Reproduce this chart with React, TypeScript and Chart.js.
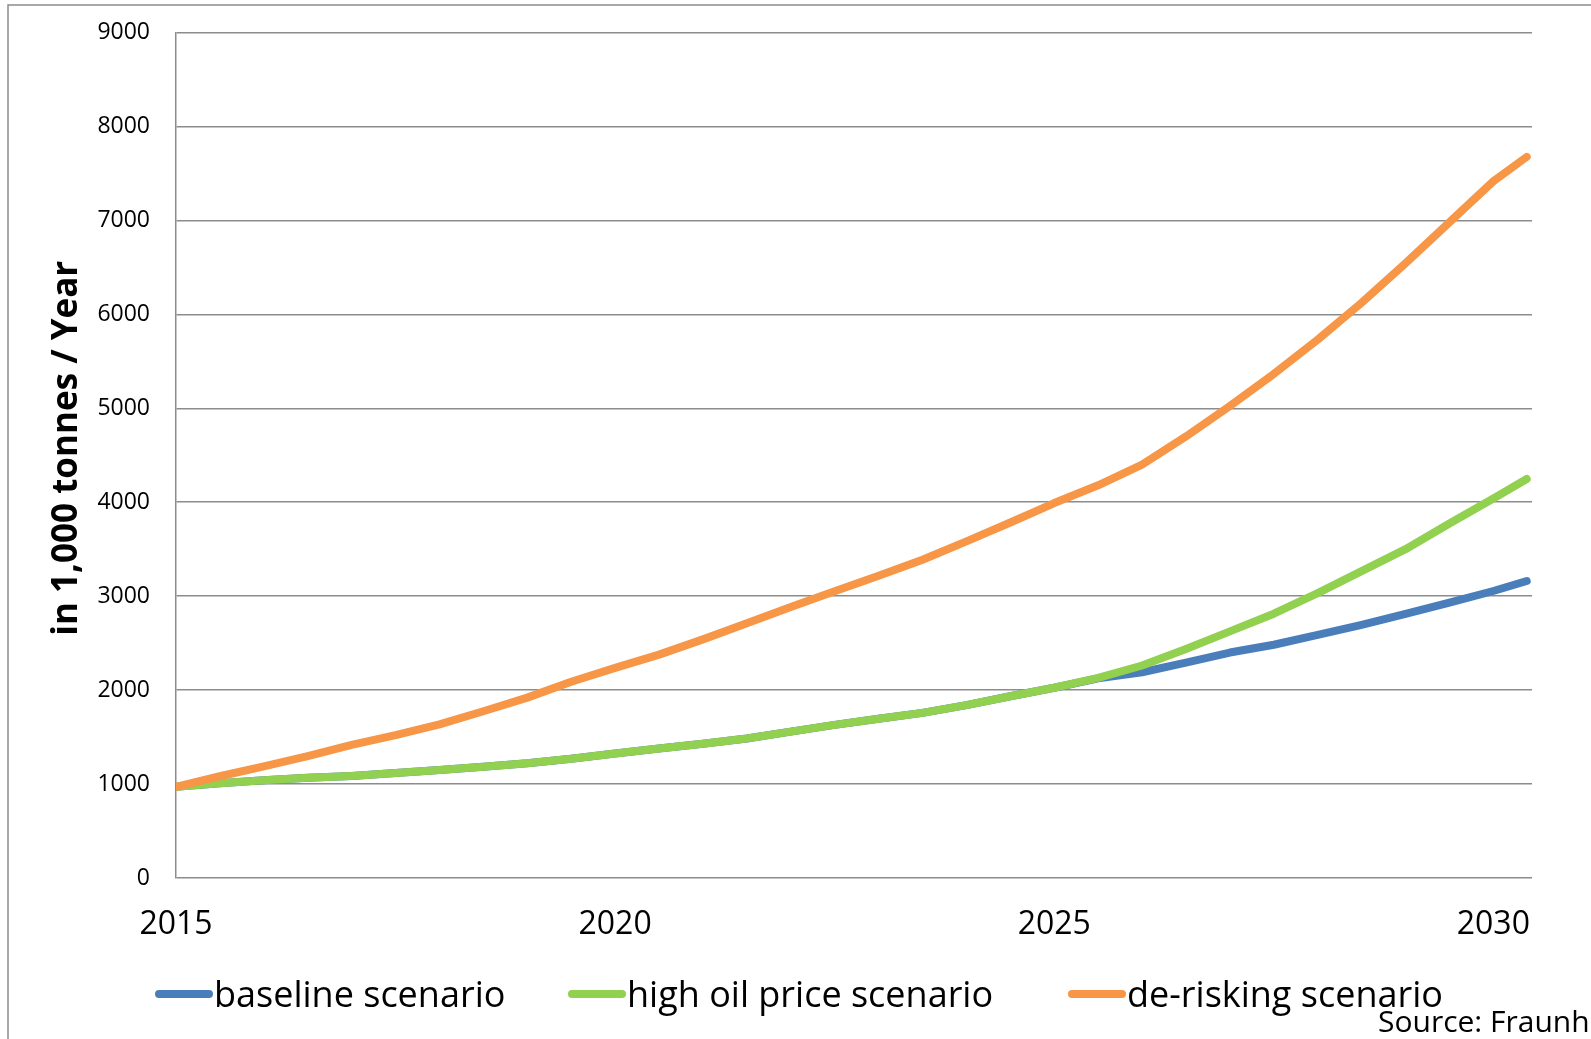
import React, { useEffect, useRef } from "react";
import { Chart, registerables } from "chart.js";

Chart.register(...registerables);

// Time axis (years, half-year steps, last point mid-2030)
const years = [
  2015, 2015.5, 2016, 2016.5, 2017, 2017.5, 2018, 2018.5, 2019, 2019.5,
  2020, 2020.5, 2021, 2021.5, 2022, 2022.5, 2023, 2023.5, 2024, 2024.5,
  2025, 2025.5, 2026, 2026.5, 2027, 2027.5, 2028, 2028.5, 2029, 2029.5,
  2030, 2030.38,
];

// Production in 1,000 tonnes per year
const baseline = [
  970, 1008, 1040, 1066, 1087, 1117, 1150, 1185, 1222, 1270,
  1325, 1379, 1430, 1485, 1558, 1630, 1695, 1758, 1840, 1935,
  2025, 2125, 2190, 2293, 2400, 2483, 2587, 2694, 2811, 2932,
  3055, 3161,
];
const highOilPrice = [
  970, 1008, 1040, 1066, 1087, 1117, 1150, 1185, 1222, 1270,
  1325, 1379, 1430, 1485, 1558, 1630, 1695, 1758, 1840, 1935,
  2025, 2130, 2262, 2438, 2625, 2813, 3033, 3267, 3500, 3773,
  4040, 4247,
];
const deRisking = [
  970, 1083, 1188, 1298, 1418, 1521, 1636, 1775, 1920, 2089,
  2236, 2378, 2540, 2712, 2884, 3052, 3217, 3388, 3583, 3784,
  3991, 4180, 4400, 4700, 5025, 5366, 5731, 6123, 6543, 6980,
  7417, 7676,
];

const seriesNames = ["baseline scenario", "high oil price scenario", "de-risking scenario"];
const seriesColors = ["#4A7EBB", "#92D050", "#F79646"];

const xTickYears = [2015, 2020, 2025, 2030];
const yTickValues = [0, 1000, 2000, 3000, 4000, 5000, 6000, 7000, 8000, 9000];
const yAxisTitle = "in 1,000 tonnes / Year";
const sourceNote = "Source: Fraunhofer";

const FONT = "'Open Sans', 'DejaVu Sans', sans-serif";
const GRID = "#8c8c8c";
const LEGEND_X = [155, 568, 1068];

// Outer frame behind the chart
const framePlugin = {
  id: "outerFrame",
  beforeDraw(chart: any) {
    const ctx = chart.ctx;
    ctx.save();
    ctx.strokeStyle = GRID;
    ctx.lineWidth = 1.5;
    ctx.beginPath();
    ctx.moveTo(8, chart.height + 5);
    ctx.lineTo(8, 5);
    ctx.lineTo(chart.width + 5, 5);
    ctx.stroke();
    ctx.restore();
  },
};

// Rotated value-axis title, centred on the plot's vertical extent
const axisTitlePlugin = {
  id: "valueAxisTitle",
  afterDraw(chart: any) {
    const ctx = chart.ctx;
    const area = chart.chartArea;
    ctx.save();
    ctx.translate(67, (area.top + area.bottom) / 2 - 7);
    ctx.rotate(-Math.PI / 2);
    ctx.font = `bold 35px ${FONT}`;
    ctx.fillStyle = "#000";
    ctx.textAlign = "center";
    ctx.textBaseline = "middle";
    ctx.fillText(yAxisTitle, 0, 0);
    ctx.restore();
  },
};

// Single-row legend with thick rounded line markers, plus source note
const legendPlugin = {
  id: "scenarioLegend",
  afterDraw(chart: any) {
    const ctx = chart.ctx;
    ctx.save();
    ctx.font = `36px ${FONT}`;
    ctx.textBaseline = "alphabetic";
    const lineLen = 50;
    const lineW = 8;
    const textGap = 1;
    const lineY = 994;
    const baseY = 1007;
    chart.data.datasets.forEach((ds: any, i: number) => {
      const x = LEGEND_X[i];
      ctx.strokeStyle = ds.borderColor;
      ctx.lineWidth = lineW;
      ctx.lineCap = "round";
      ctx.beginPath();
      ctx.moveTo(x + lineW / 2, lineY);
      ctx.lineTo(x + lineW / 2 + lineLen, lineY);
      ctx.stroke();
      ctx.fillStyle = "#000";
      ctx.fillText(ds.label, x + lineLen + lineW + textGap, baseY);
    });
    ctx.font = `30px ${FONT}`;
    ctx.fillText(sourceNote, 1378, 1032);
    ctx.restore();
  },
};

export default function App() {
  const canvasRef = useRef<HTMLCanvasElement>(null);

  useEffect(() => {
    const canvas = canvasRef.current;
    if (!canvas) return;
    const seriesData = [baseline, highOilPrice, deRisking];
    const chart = new Chart(canvas, {
      type: "line",
      data: {
        datasets: seriesData.map((vals, i) => ({
          label: seriesNames[i],
          data: years.map((yr, j) => ({ x: yr, y: vals[j] })),
          borderColor: seriesColors[i],
          backgroundColor: seriesColors[i],
          borderWidth: 8,
          borderCapStyle: "round",
          borderJoinStyle: "round",
          pointRadius: 0,
          tension: 0,
          fill: false,
          order: 3 - i,
        })),
      },
      options: {
        responsive: false,
        animation: false,
        events: [],
        layout: { autoPadding: false, padding: { left: 0, right: 59, top: 32.5, bottom: 0 } },
        plugins: {
          legend: { display: false },
          tooltip: { enabled: false },
        },
        scales: {
          x: {
            type: "linear",
            min: 2015,
            max: 2030.44,
            afterBuildTicks: (scale: any) => {
              scale.ticks = xTickYears.map((v) => ({ value: v }));
            },
            afterFit: (scale: any) => {
              scale.height = 161;
              scale.paddingLeft = 0;
              scale.paddingRight = 0;
            },
            grid: { display: false, drawTicks: false },
            border: { display: false },
            ticks: {
              color: "#000",
              font: { family: FONT, size: 32 },
              padding: 28,
              maxRotation: 0,
              autoSkip: false,
              callback: (v: any) => String(v),
            },
          },
          y: {
            type: "linear",
            min: 0,
            max: 9000,
            afterBuildTicks: (scale: any) => {
              scale.ticks = yTickValues.map((v) => ({ value: v }));
            },
            afterFit: (scale: any) => {
              scale.width = 176;
              scale.paddingTop = 0;
              scale.paddingBottom = 0;
            },
            grid: { color: GRID, lineWidth: 1.5, drawTicks: false },
            border: { display: true, color: GRID, width: 1.5 },
            ticks: {
              color: "#000",
              font: { family: FONT, size: 23 },
              padding: 26,
              callback: (v: any) => String(v),
            },
          },
        },
      },
      plugins: [framePlugin, axisTitlePlugin, legendPlugin],
    } as any);
    return () => chart.destroy();
  }, []);

  return (
    <canvas
      ref={canvasRef}
      width={1591}
      height={1039}
      style={{ position: "fixed", left: 0, top: 0, width: 1591, height: 1039, display: "block" }}
    />
  );
}
